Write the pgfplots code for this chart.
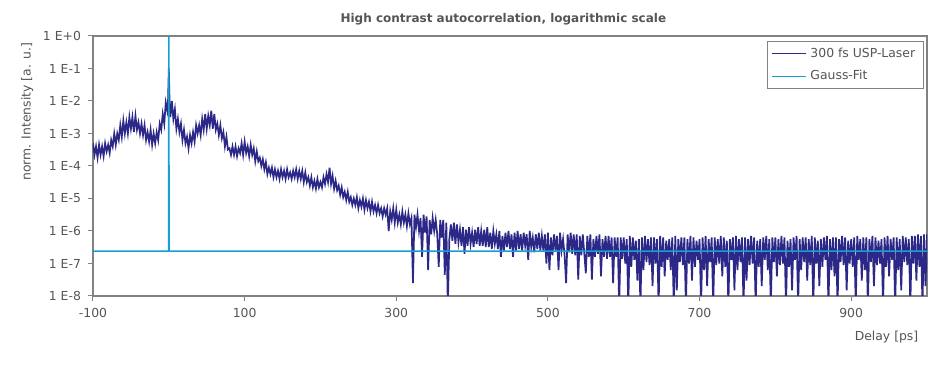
\documentclass[border=0pt]{standalone}
\usepackage{pgfplots}
\pgfplotsset{compat=1.18}
\usepackage{fontspec}
\setmainfont{DejaVu Sans}
\definecolor{laser}{RGB}{43,40,135}
\definecolor{fit}{RGB}{20,160,215}
\definecolor{axgray}{RGB}{130,130,130}
\definecolor{txtgray}{RGB}{85,85,85}
\begin{document}
\begin{tikzpicture}
\path[use as bounding box] (-46.5pt,-36pt) rectangle (423.5pt,148pt);
\begin{axis}[
  at={(0,0)}, anchor=south west,
  width=417pt, height=130pt, scale only axis,
  xmin=-100, xmax=1000,
  ymode=log, ymin=1e-8, ymax=1,
  clip=true,
  axis line style={axgray, line width=0.6pt},
  tick style={axgray, line width=0.5pt},
  tick align=outside, major tick length=2.5pt,
  xtick pos=left, ytick pos=left,
  yminorticks=false, xminorticks=false,
  xtick={-100,100,300,500,700,900},
  xticklabels={-100,100,300,500,700,900},
  ytick={1e-8,1e-7,1e-6,1e-5,1e-4,1e-3,1e-2,1e-1,1},
  yticklabels={1 E-8,1 E-7,1 E-6,1 E-5,1 E-4,1 E-3,1 E-2,1 E-1,1 E+0},
  ticklabel style={font=\fontsize{6.2}{7}\selectfont, text=txtgray},
  title={High contrast autocorrelation, logarithmic scale},
  title style={at={(axis description cs:0.492,1.019)}, anchor=center, font=\fontsize{6}{7}\selectfont\bfseries, text=txtgray},
  xlabel={Delay [ps]},
  xlabel style={at={(axis description cs:0.998,-0.158)}, anchor=east, font=\fontsize{6.2}{7}\selectfont, text=txtgray},
  ylabel={norm. Intensity [a. u.]},
  ylabel style={at={(axis description cs:-0.079,1)}, anchor=east, font=\fontsize{6.2}{7}\selectfont, text=txtgray},
  legend style={at={(axis description cs:0.996,0.98)}, anchor=north east, draw=axgray, line width=0.5pt, font=\fontsize{6.2}{7}\selectfont, text=txtgray, cells={anchor=west}, inner xsep=2pt, inner ysep=1pt, row sep=1pt},
  legend image code/.code={\draw[#1, line width=0.5pt] (0pt,0pt) -- (17pt,0pt);},
]
\addplot[laser, line width=0.85pt] coordinates {
(-100,5e-4)(-98,2.2e-4)(-96,4e-4)(-94,1.8e-4)(-92,4.5e-4)(-90,2.2e-4)(-88,4e-4)(-86,2e-4)
(-84,5e-4)(-82,2.8e-4)(-80,4.5e-4)(-78,2.5e-4)(-76,6.3e-4)(-74,4e-4)(-72,1e-3)(-70,4.5e-4)
(-68,1e-3)(-66,6.3e-4)(-64,1.8e-3)(-62,7.9e-4)(-60,2.5e-3)(-58,1e-3)(-56,2.2e-3)(-54,1e-3)
(-52,3.2e-3)(-50,1.4e-3)(-48,3.2e-3)(-46,1.1e-3)(-44,3.5e-3)(-42,1.3e-3)(-40,2.2e-3)(-38,1e-3)
(-36,2e-3)(-34,8.9e-4)(-32,1.8e-3)(-30,6.3e-4)(-28,1.1e-3)(-26,5.6e-4)(-24,1.3e-3)(-22,4.5e-4)
(-20,1e-3)(-18,5e-4)(-16,1.1e-3)(-14,6.3e-4)(-12,2e-3)(-10,1.3e-3)(-8,4e-3)(-6,2e-3)
(-4,8.9e-3)(-2,5e-3)(-1,1e-2)(0,1e-1)(1,8.9e-3)(2,3.2e-3)(4,1e-2)(6,2.8e-3)
(8,5.6e-3)(10,1.4e-3)(12,2.8e-3)(14,1.1e-3)(16,2e-3)(18,6.3e-4)(20,1.3e-3)(22,5e-4)
(24,7.9e-4)(26,3.5e-4)(28,8.9e-4)(30,5e-4)(32,1.1e-3)(34,5.6e-4)(36,1.8e-3)(38,1e-3)
(40,1.8e-3)(42,8.9e-4)(44,2.8e-3)(46,1.3e-3)(48,4e-3)(50,1.4e-3)(52,3.5e-3)(54,1.8e-3)
(56,5e-3)(58,1.4e-3)(60,4e-3)(62,1.3e-3)(64,2e-3)(66,8.9e-4)(68,1.8e-3)(70,7.1e-4)
(72,1.1e-3)(74,4e-4)(76,7.9e-4)(78,3.2e-4)(80,3.5e-4)(82,2.2e-4)(84,4e-4)(86,2.2e-4)
(88,4e-4)(90,2e-4)(92,3.5e-4)(94,2.5e-4)(96,5e-4)(98,2.2e-4)(100,5.6e-4)(102,2.5e-4)
(104,4e-4)(106,2e-4)(108,4.5e-4)(110,2.2e-4)(112,3.5e-4)(114,1.4e-4)(116,2.8e-4)(118,1.4e-4)
(120,1.8e-4)(122,1e-4)(124,1.6e-4)(126,7.9e-5)(128,1.3e-4)(130,5.6e-5)(132,8.9e-5)(134,5.6e-5)
(136,8.9e-5)(138,4.5e-5)(140,7.9e-5)(142,4.5e-5)(144,7.1e-5)(146,4e-5)(148,7.9e-5)(150,4.5e-5)
(152,7.1e-5)(154,4e-5)(156,7.9e-5)(158,4.5e-5)(160,6.3e-5)(162,4e-5)(164,7.1e-5)(166,4.5e-5)
(168,7.9e-5)(170,4e-5)(172,7.1e-5)(174,4e-5)(176,7.1e-5)(178,3.2e-5)(180,6.3e-5)(182,3.2e-5)
(184,4.5e-5)(186,2.5e-5)(188,4.5e-5)(190,2.2e-5)(192,3.5e-5)(194,2e-5)(196,4e-5)(198,2.2e-5)
(200,3.2e-5)(202,2.2e-5)(204,4.5e-5)(206,2.8e-5)(208,5.6e-5)(210,3.2e-5)(212,8.9e-5)(214,2.8e-5)
(216,5e-5)(218,2e-5)(220,3.5e-5)(222,1.8e-5)(224,2.5e-5)(226,1.3e-5)(228,2.2e-5)(230,1.1e-5)
(232,1.6e-5)(234,8.9e-6)(236,1.6e-5)(238,7.9e-6)(240,1.1e-5)(242,6.3e-6)(244,1e-5)(246,6.3e-6)
(248,1.1e-5)(250,5e-6)(252,8.9e-6)(254,5.6e-6)(256,1e-5)(258,4.5e-6)(260,8.9e-6)(262,5e-6)
(264,7.9e-6)(266,4e-6)(268,7.9e-6)(270,4e-6)(272,6.3e-6)(274,3.5e-6)(276,6.3e-6)(278,3.5e-6)
(280,5e-6)(282,2.8e-6)(284,5e-6)(286,3.2e-6)(288,5e-6)(290,1e-6)(292,4e-6)(294,2.2e-6)
(296,5e-6)(298,1.8e-6)(300,4.5e-6)(302,1.8e-6)(304,3.2e-6)(306,1.6e-6)(308,4e-6)(310,1.8e-6)
(312,3.2e-6)(314,1.4e-6)(316,3.5e-6)(318,1.6e-6)(320,2.5e-6)(322,2.5e-8)(324,3.2e-6)(326,1.3e-6)
(328,3.2e-6)(330,1e-6)(332,2.5e-6)(334,1.6e-7)(336,3.2e-6)(338,8.9e-7)(340,2.8e-6)(342,6.3e-8)
(344,2.2e-6)(346,7.9e-7)(348,2.5e-6)(350,1e-6)(352,2.2e-6)(354,7.9e-7)(356,7.9e-8)(358,2.2e-6)
(360,6.3e-7)(362,2.2e-6)(364,4.5e-8)(366,1.8e-6)(368,5e-9)(370,5.6e-7)(372,1.6e-6)(374,5e-7)
(376,1.8e-6)(378,4e-7)(380,1.6e-6)(382,4.5e-7)(384,1.1e-6)(386,3.5e-7)(388,1.3e-6)(390,2e-7)
(392,1.1e-6)(394,3.5e-7)(396,1.3e-6)(398,4e-7)(400,8.9e-7)(402,3.2e-7)(404,1.1e-6)(406,4e-7)
(408,1.3e-6)(410,3.5e-7)(412,1e-6)(414,3.5e-7)(416,1.1e-6)(418,3.2e-7)(420,1.3e-6)(422,3.2e-7)
(424,8.9e-7)(426,2.8e-7)(428,1e-6)(430,4e-7)(432,7.9e-7)(434,2.8e-7)(436,1e-6)(438,1.6e-7)
(440,7.1e-7)(442,2.5e-7)(444,8.9e-7)(446,3.2e-7)(448,1e-6)(450,2.8e-7)(452,7.9e-7)(454,1.6e-7)
(456,8.9e-7)(458,2.5e-7)(460,1e-6)(462,2.8e-7)(464,7.9e-7)(466,2.5e-7)(468,8.9e-7)(470,3.5e-7)
(472,7.9e-7)(474,1.3e-7)(476,1e-6)(478,3.2e-7)(480,6.3e-7)(482,2.2e-7)(484,7.9e-7)(486,2.8e-7)
(488,8.9e-7)(490,2.5e-7)(492,7.1e-7)(494,2.5e-7)(496,7.9e-7)(498,1e-7)(500,8.9e-7)(502,6.3e-8)
(504,6.3e-7)(506,1.8e-7)(508,7.9e-7)(510,2.5e-7)(512,7.1e-7)(514,6.3e-8)(516,8.9e-7)(518,2.5e-7)
(520,5.6e-7)(522,1.8e-7)(524,2.5e-8)(526,7.9e-7)(528,2.2e-7)(530,8.9e-7)(532,2e-7)(534,7.9e-7)
(536,1.8e-7)(538,7.9e-7)(540,3.2e-8)(542,7.1e-7)(544,1.8e-7)(546,7.9e-7)(548,2e-7)(550,5e-8)
(552,7.1e-7)(554,1.6e-7)(556,7.9e-7)(558,3.2e-8)(560,5.6e-7)(562,1.6e-7)(564,7.1e-7)(566,2e-7)
(568,7.9e-7)(570,4e-8)(572,5.6e-7)(574,1.6e-7)(576,7.1e-7)(578,1.4e-7)(580,7.1e-7)(582,1.6e-7)
(584,6.3e-7)(586,2.5e-8)(588,6.3e-7)(590,1.6e-7)(592,6.3e-7)(594,5e-9)(596,6.3e-7)(598,1.4e-7)
(600,6.3e-7)(602,1e-7)(604,5.6e-7)(606,5e-9)(608,7.1e-7)(610,7.9e-8)(612,6.3e-7)(614,1.3e-7)
(616,5e-7)(618,3e-8)(620,5.6e-7)(622,5e-9)(624,6.3e-7)(626,6.3e-8)(628,7.1e-7)(630,1.1e-7)
(632,5.6e-7)(634,8.9e-8)(636,6.3e-7)(638,2e-8)(640,6.3e-7)(642,1e-7)(644,5.6e-7)(646,5e-9)
(648,7.1e-7)(650,7.9e-8)(652,6.3e-7)(654,4e-8)(656,5e-7)(658,1.3e-7)(660,5.6e-7)(662,6.3e-8)
(664,6.3e-7)(666,5e-9)(668,7.1e-7)(670,1.5e-8)(672,5.6e-7)(674,1.1e-7)(676,6.3e-7)(678,8.9e-8)
(680,6.3e-7)(682,5e-9)(684,5.6e-7)(686,1e-7)(688,7.1e-7)(690,3e-8)(692,6.3e-7)(694,7.9e-8)
(696,5e-7)(698,1.3e-7)(700,5.6e-7)(702,5e-9)(704,6.3e-7)(706,6.3e-8)(708,7.1e-7)(710,2e-8)
(712,5.6e-7)(714,1.1e-7)(716,6.3e-7)(718,5e-9)(720,6.3e-7)(722,8.9e-8)(724,5.6e-7)(726,1e-7)
(728,7.1e-7)(730,4e-8)(732,6.3e-7)(734,7.9e-8)(736,5e-7)(738,5e-9)(740,5.6e-7)(742,1.3e-7)
(744,6.3e-7)(746,1.5e-8)(748,7.1e-7)(750,6.3e-8)(752,5.6e-7)(754,1.1e-7)(756,6.3e-7)(758,5e-9)
(760,6.3e-7)(762,3e-8)(764,5.6e-7)(766,8.9e-8)(768,7.1e-7)(770,1e-7)(772,6.3e-7)(774,5e-9)
(776,5e-7)(778,7.9e-8)(780,5.6e-7)(782,2e-8)(784,6.3e-7)(786,1.3e-7)(788,7.1e-7)(790,6.3e-8)
(792,5.6e-7)(794,5e-9)(796,6.3e-7)(798,1.1e-7)(800,6.3e-7)(802,4e-8)(804,5.6e-7)(806,8.9e-8)
(808,7.1e-7)(810,1e-7)(812,6.3e-7)(814,5e-9)(816,5e-7)(818,7.9e-8)(820,5.6e-7)(822,1.5e-8)
(824,6.3e-7)(826,1.3e-7)(828,7.1e-7)(830,5e-9)(832,5.6e-7)(834,6.3e-8)(836,6.3e-7)(838,1.1e-7)
(840,6.3e-7)(842,3e-8)(844,5.6e-7)(846,8.9e-8)(848,7.1e-7)(850,5e-9)(852,6.3e-7)(854,1e-7)
(856,5e-7)(858,2e-8)(860,5.6e-7)(862,7.9e-8)(864,6.3e-7)(866,1.3e-7)(868,7.1e-7)(870,5e-9)
(872,5.6e-7)(874,6.3e-8)(876,6.3e-7)(878,4e-8)(880,6.3e-7)(882,5e-9)(884,5.6e-7)(886,1.1e-7)
(888,7.1e-7)(890,8.9e-8)(892,6.3e-7)(894,1.5e-8)(896,5e-7)(898,1e-7)(900,5.6e-7)(902,7.9e-8)
(904,6.3e-7)(906,5e-9)(908,7.1e-7)(910,1.3e-7)(912,5.6e-7)(914,3e-8)(916,6.3e-7)(918,6.3e-8)
(920,6.3e-7)(922,5e-9)(924,5.6e-7)(926,1.1e-7)(928,7.1e-7)(930,2e-8)(932,6.3e-7)(934,8.9e-8)
(936,5e-7)(938,1e-7)(940,5.6e-7)(942,5e-9)(944,6.3e-7)(946,7.9e-8)(948,7.1e-7)(950,4e-8)
(952,5.6e-7)(954,1.3e-7)(956,6.3e-7)(958,5e-9)(960,6.3e-7)(962,6.3e-8)(964,5.6e-7)(966,1.5e-8)
(968,7.1e-7)(970,1.1e-7)(972,6.3e-7)(974,8.9e-8)(976,5.6e-7)(978,5e-9)(980,7.1e-7)(982,1e-7)
(984,7.1e-7)(986,3e-8)(988,7.9e-7)(990,7.9e-8)(992,7.1e-7)(994,5e-9)(996,7.9e-7)(998,2e-8)
(1000,7.9e-7)
};
\addlegendentry{300 fs USP-Laser}
\addplot[fit, line width=0.75pt] coordinates {
(-100,2.4e-7)(-0.4,2.4e-7)(0,1)(0.4,2.4e-7)(1000,2.4e-7)
};
\addlegendentry{Gauss-Fit}
\end{axis}
\end{tikzpicture}
\end{document}
